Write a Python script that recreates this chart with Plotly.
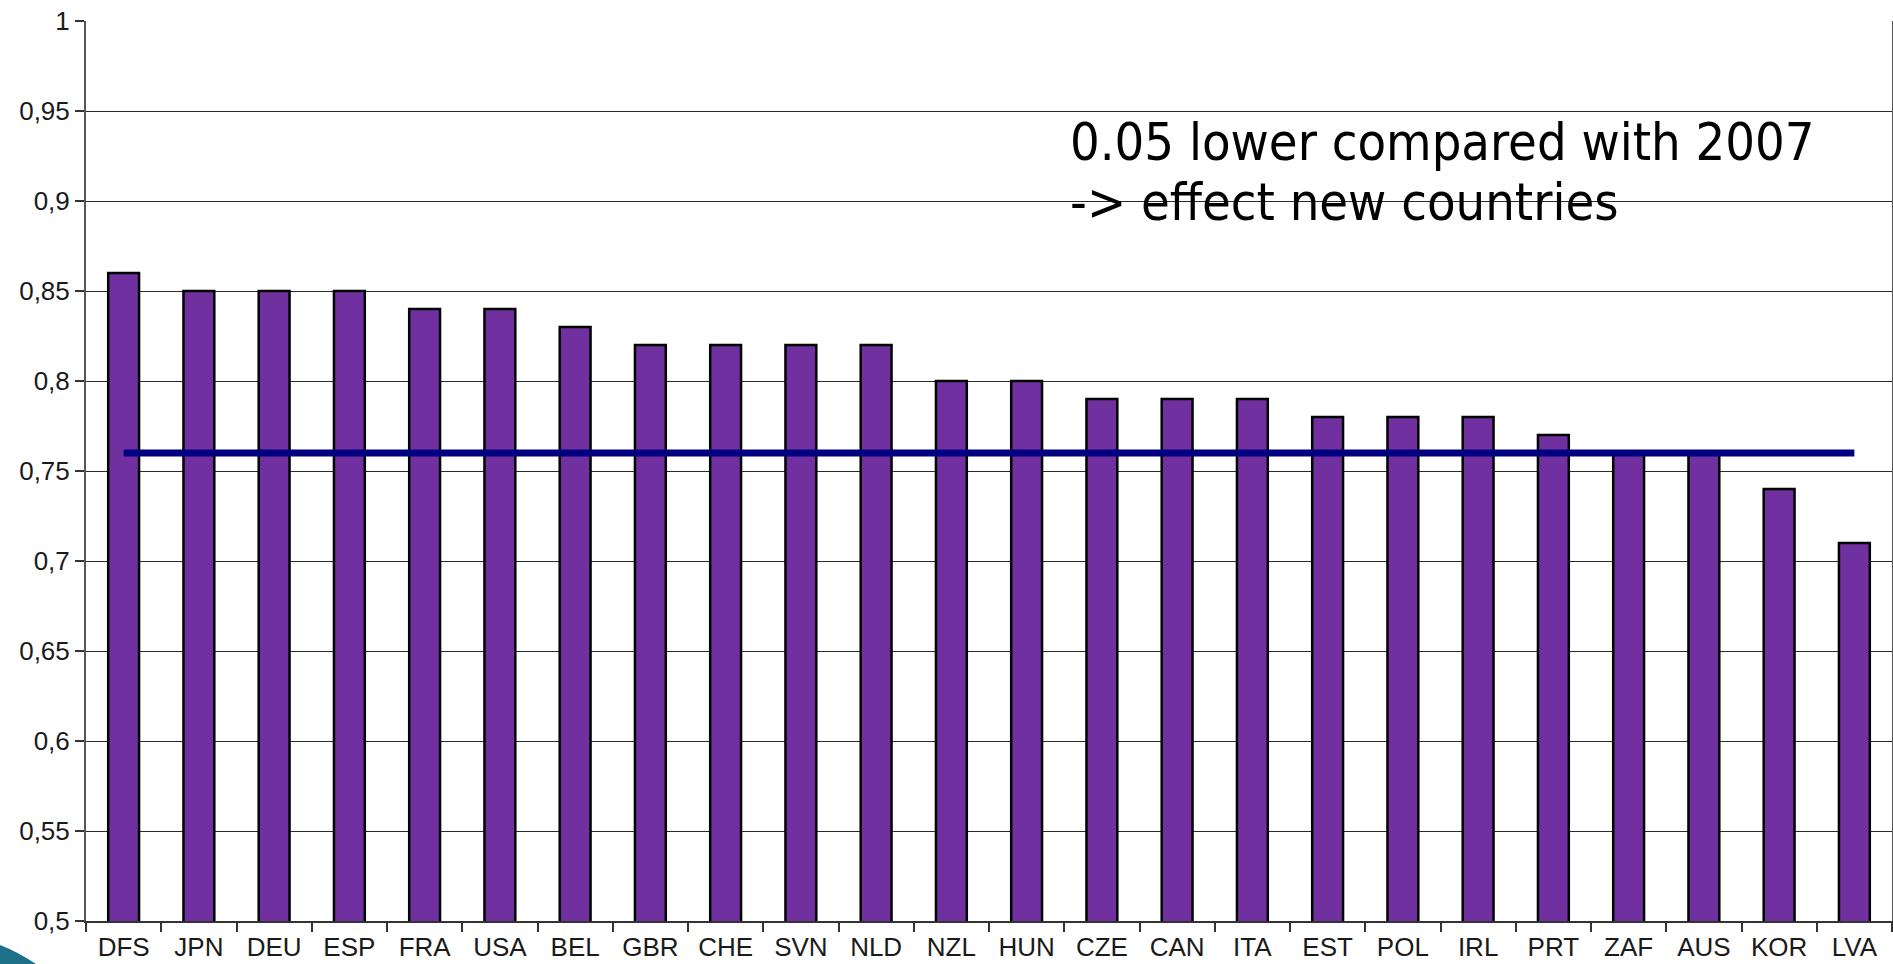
import plotly.graph_objects as go

countries = ["DFS", "JPN", "DEU", "ESP", "FRA", "USA", "BEL", "GBR", "CHE", "SVN", "NLD", "NZL",
             "HUN", "CZE", "CAN", "ITA", "EST", "POL", "IRL", "PRT", "ZAF", "AUS", "KOR", "LVA"]
values = [0.86, 0.85, 0.85, 0.85, 0.84, 0.84, 0.83, 0.82, 0.82, 0.82, 0.82, 0.80,
          0.80, 0.79, 0.79, 0.79, 0.78, 0.78, 0.78, 0.77, 0.76, 0.76, 0.74, 0.71]
average = [0.76] * len(countries)
y_ticks = [0.5, 0.55, 0.6, 0.65, 0.7, 0.75, 0.8, 0.85, 0.9, 0.95, 1.0]
y_ticktext = [f"{v:g}".replace(".", ",") for v in y_ticks]
note_lines = ["0.05 lower compared with 2007", "-> effect new countries"]

W, H = 1893, 964
L, R, T, B = 86, 1, 21, 43
pw, ph = W - L - R, H - T - B

def px(x):
    return (x - L) / pw

def py(y):
    return (H - B - y) / ph

fig = go.Figure()
fig.add_trace(go.Bar(
    x=countries, y=values, base=0,
    marker=dict(color="#7030A0", line=dict(color="#000000", width=2.5)),
    showlegend=False, hoverinfo="x+y",
))
fig.add_trace(go.Scatter(
    x=countries, y=average, mode="lines",
    line=dict(color="#000080", width=7),
    showlegend=False,
))

note_font = dict(family="DejaVu Sans Condensed, Liberation Sans Narrow, DejaVu Sans, sans-serif",
                 size=52, color="#000000")
annotations = []
for txt, yc in zip(note_lines, [142, 202]):
    annotations.append(dict(
        text=txt, xref="paper", yref="paper", x=px(1068), y=py(yc),
        xanchor="left", yanchor="middle", align="left", showarrow=False,
        font=note_font,
    ))

fig.update_layout(
    width=W, height=H,
    margin=dict(l=L, r=R, t=T, b=B, pad=0),
    paper_bgcolor="white", plot_bgcolor="white",
    bargap=0.59,
    font=dict(family="Liberation Sans, Arial, sans-serif", size=26, color="#1a1a1a"),
    xaxis=dict(
        type="category", showgrid=False, showline=True, linecolor="#333333", linewidth=2,
        ticks="outside", tickson="boundaries", ticklen=9, tickcolor="#333333", tickwidth=1.5,
        tickfont=dict(size=26), mirror=False, automargin=False, ticklabelstandoff=2,
    ),
    yaxis=dict(
        range=[0.5, 1.0], tickvals=y_ticks, ticktext=y_ticktext,
        showgrid=True, gridcolor="#2a2a2a", gridwidth=1,
        showline=True, linecolor="#555555", linewidth=2, mirror=True,
        ticks="outside", ticklen=9, tickcolor="#333333", tickwidth=1.5,
        tickfont=dict(size=26), zeroline=False, automargin=False,
    ),
    annotations=annotations,
    shapes=[dict(
        type="path", xref="paper", yref="paper",
        path=f"M {px(0)},{py(945)} Q {px(18)},{py(952)} {px(36)},{py(964)} L {px(0)},{py(964)} Z",
        fillcolor="#1d7088", line=dict(width=0), layer="above",
    )],
)

fig.write_html(
    "out.html",
    config={"displayModeBar": False},
    post_script="document.body.style.margin='0';document.body.style.overflow='hidden';",
)
